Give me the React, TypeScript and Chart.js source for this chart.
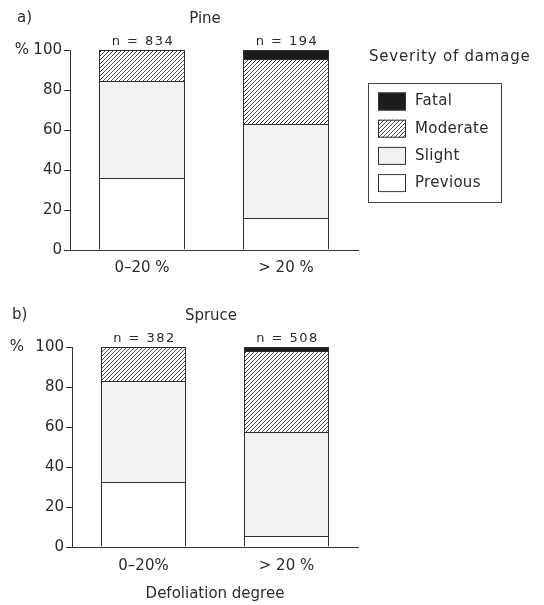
import React, { useEffect, useRef } from 'react';
import { Chart, registerables } from 'chart.js';

Chart.register(...registerables);

// ---- data ----
const pineCategories = ['0–20 %', '> 20 %'];
const spruceCategories = ['0–20%', '> 20 %'];
const severityNames = ['Previous', 'Slight', 'Moderate', 'Fatal'];
const pinePrevious = [36, 16];
const pineSlight = [48.5, 47];
const pineModerate = [15.5, 32.5];
const pineFatal = [0, 4.5];
const pineN = [834, 194];
const sprucePrevious = [32.5, 5.5];
const spruceSlight = [50.5, 52];
const spruceModerate = [17, 40.5];
const spruceFatal = [0, 2];
const spruceN = [382, 508];
const yTickValues = [0, 20, 40, 60, 80, 100];

const FONT = '"DejaVu Sans", sans-serif';
const INK = '#2b2b2b';

function makeHatch(): CanvasPattern | string {
  const c = document.createElement('canvas');
  c.width = 4;
  c.height = 4;
  const g = c.getContext('2d');
  if (!g) return '#ccc';
  g.fillStyle = '#ffffff';
  g.fillRect(0, 0, 4, 4);
  g.strokeStyle = '#333333';
  g.lineWidth = 0.9;
  g.beginPath();
  g.moveTo(0, 4);
  g.lineTo(4, 0);
  g.moveTo(-1, 1);
  g.lineTo(1, -1);
  g.moveTo(3, 5);
  g.lineTo(5, 3);
  g.stroke();
  return g.createPattern(c, 'repeat') || '#ccc';
}

type Props = {
  top: number;
  height: number;
  categories: string[];
  prev: number[];
  slight: number[];
  moderate: number[];
  fatal: number[];
  ns: number[];
  letter: string;
  letterX: number;
  title: string;
  titleX: number;
  axisLeft: number;
  plotTop: number;
  plotBottom: number;
  pctX: number;
  showLegend: boolean;
  xTitle?: string;
  tickPad: number;
  barPct: number;
};

function StackChart(p: Props) {
  const ref = useRef<HTMLCanvasElement | null>(null);
  useEffect(() => {
    const canvas = ref.current;
    if (!canvas) return;
    const hatch = makeHatch();
    const fills: (string | CanvasPattern)[] = ['#ffffff', '#f1f1f1', hatch, '#1c1c1c'];
    const values = [p.prev, p.slight, p.moderate, p.fatal];
    const datasets = severityNames.map((name, i) => ({
      label: name,
      data: values[i],
      backgroundColor: fills[i] as any,
      borderColor: '#2e2e2e',
      borderWidth: { top: 1, left: 1, right: 1, bottom: 0 },
      borderSkipped: false as any,
      barPercentage: p.barPct,
      categoryPercentage: 1,
    }));

    const annot = {
      id: 'annot',
      afterDraw(chart: any) {
        const ctx: CanvasRenderingContext2D = chart.ctx;
        const ys = chart.scales.y;
        ctx.save();
        ctx.fillStyle = INK;
        ctx.textBaseline = 'middle';
        ctx.font = `15px ${FONT}`;
        ctx.textAlign = 'left';
        ctx.fillText(p.letter, p.letterX, p.plotTop - 32);
        ctx.textAlign = 'center';
        ctx.fillText(p.title, p.titleX, p.plotTop - 31);
        ctx.fillText('%', p.pctX, ys.getPixelForValue(100));
        // n labels
        const meta = chart.getDatasetMeta(severityNames.length - 1);
        ctx.font = `13px ${FONT}`;
        (ctx as any).letterSpacing = '1.5px';
        meta.data.forEach((el: any, i: number) => {
          ctx.fillText(`n = ${p.ns[i]}`, el.x + 1, ys.getPixelForValue(100) - 8);
        });
        (ctx as any).letterSpacing = '0px';
        if (p.showLegend) {
          ctx.font = `15px ${FONT}`;
          (ctx as any).letterSpacing = '0.8px';
          ctx.textAlign = 'left';
          ctx.fillText('Severity of damage', 369, 57);
          (ctx as any).letterSpacing = '0.3px';
          ctx.strokeStyle = '#444';
          ctx.lineWidth = 1;
          ctx.strokeRect(368.5, 83.5, 133, 119);
          const order = [3, 2, 1, 0];
          order.forEach((di, row) => {
            const y = 92.5 + row * 27.2;
            const ds = chart.data.datasets[di];
            ctx.fillStyle = ds.backgroundColor;
            ctx.fillRect(378, y, 28, 18);
            ctx.strokeStyle = '#333';
            ctx.strokeRect(378.5, y + 0.5, 27, 17);
            ctx.fillStyle = INK;
            ctx.fillText(ds.label, 415, y + 9);
          });
        }
        ctx.restore();
      },
    };

    const chart = new Chart(canvas, {
      type: 'bar',
      data: { labels: p.categories, datasets },
      options: {
        responsive: false,
        animation: false,
        devicePixelRatio: 1,
        layout: { padding: { top: p.plotTop, right: 544 - 358, left: 0, bottom: 0 } },
        plugins: {
          legend: { display: false },
          tooltip: { enabled: false },
          title: { display: false },
        },
        scales: {
          x: {
            stacked: true,
            grid: { display: true, drawOnChartArea: false, drawTicks: false, color: '#333' },
            border: { display: true, color: '#333', width: 1 },
            ticks: { color: INK, font: { family: FONT, size: 15 }, padding: p.tickPad },
            afterFit: (s: any) => {
              s.height = p.height - p.plotBottom;
            },
            title: p.xTitle
              ? {
                  display: true,
                  text: p.xTitle,
                  color: INK,
                  font: { family: FONT, size: 15 },
                  padding: { top: 4, bottom: 2 },
                }
              : { display: false },
          },
          y: {
            stacked: true,
            min: 0,
            max: 100,
            afterBuildTicks: (s: any) => {
              s.ticks = yTickValues.map((v) => ({ value: v }));
            },
            ticks: { color: INK, font: { family: FONT, size: 15 }, padding: 2 },
            grid: { display: true, drawOnChartArea: false, drawTicks: true, tickLength: 6, color: '#333' },
            border: { display: true, color: '#333', width: 1 },
            afterFit: (s: any) => {
              s.width = p.axisLeft;
            },
          },
        },
      },
      plugins: [annot],
    });
    return () => chart.destroy();
  }, []);
  return (
    <canvas
      ref={ref}
      width={544}
      height={p.height}
      style={{ position: 'absolute', left: 0, top: p.top, display: 'block' }}
    />
  );
}

export default function App() {
  return (
    <div style={{ position: 'absolute', left: 0, top: 0, width: 544, height: 605, background: '#fff' }}>
      <StackChart
        top={0}
        height={290}
        categories={pineCategories}
        prev={pinePrevious}
        slight={pineSlight}
        moderate={pineModerate}
        fatal={pineFatal}
        ns={pineN}
        letter="a)"
        letterX={17}
        title="Pine"
        titleX={205}
        axisLeft={70}
        plotTop={50}
        plotBottom={250}
        pctX={22}
        showLegend={true}
        tickPad={9}
        barPct={86 / 144}
      />
      <StackChart
        top={290}
        height={315}
        categories={spruceCategories}
        prev={sprucePrevious}
        slight={spruceSlight}
        moderate={spruceModerate}
        fatal={spruceFatal}
        ns={spruceN}
        letter="b)"
        letterX={12}
        title="Spruce"
        titleX={211}
        axisLeft={72}
        plotTop={57}
        plotBottom={257}
        pctX={17}
        showLegend={false}
        xTitle="Defoliation degree"
        tickPad={10}
        barPct={85 / 143}
      />
    </div>
  );
}
